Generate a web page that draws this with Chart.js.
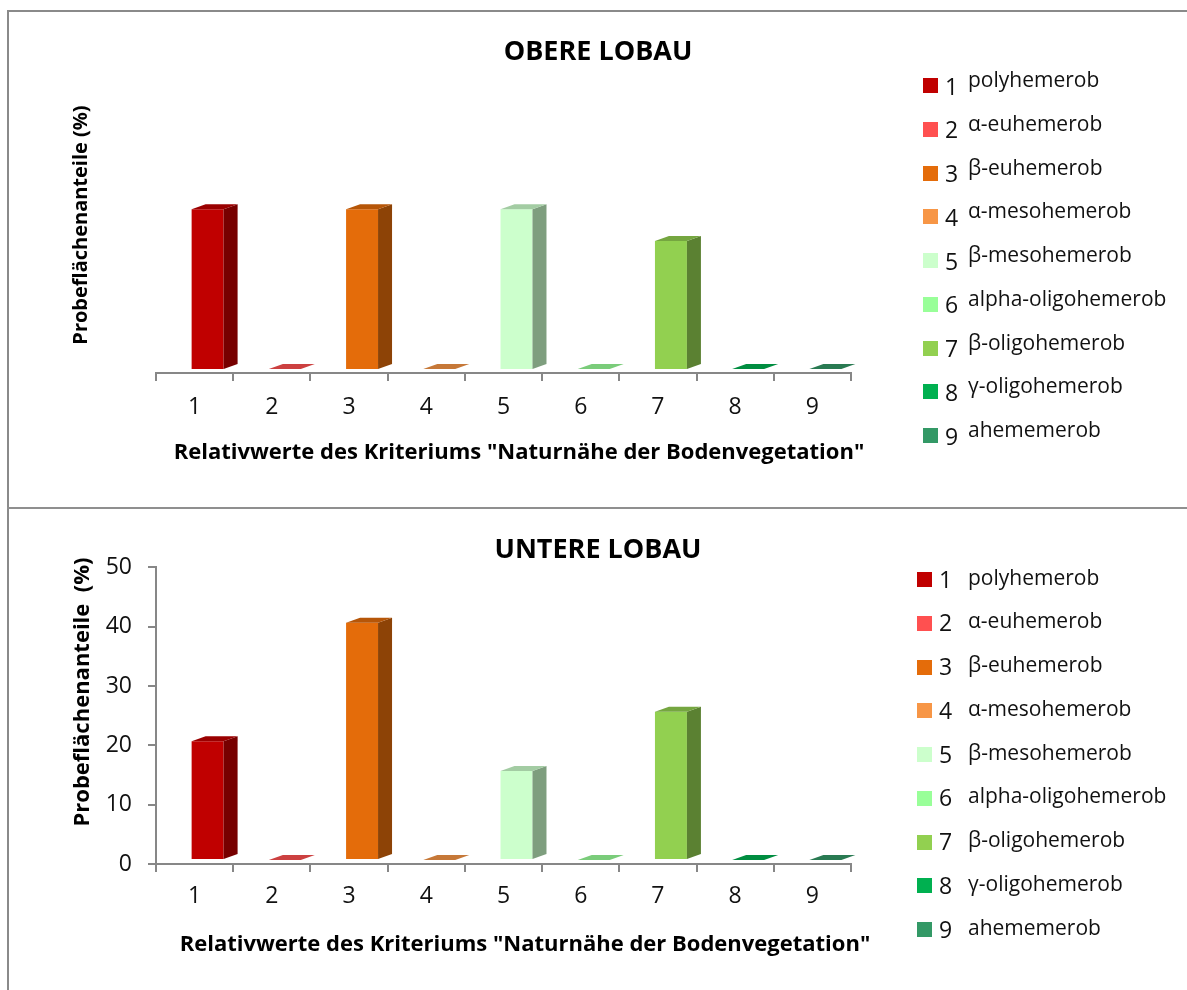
<!DOCTYPE html>
<html lang="de">
<head>
<meta charset="utf-8">
<title>Naturnähe der Bodenvegetation – Obere und Untere Lobau</title>
<script src="https://cdn.jsdelivr.net/npm/chart.js@4.4.1/dist/chart.umd.min.js"></script>
<style>
  html, body { margin: 0; padding: 0; background: #fff; }
  body { width: 1187px; height: 990px; position: relative; overflow: hidden; font-family: 'Open Sans', sans-serif; }
  .frame { position: absolute; left: 7px; top: 10px; width: 1190px; height: 990px;
           border-left: 2px solid #8a8a8a; border-top: 2px solid #8a8a8a; box-sizing: border-box; }
  .divider { position: absolute; left: 7px; top: 507px; width: 1190px; height: 2px; background: #8f8f8f; }
  .panel { position: absolute; left: 9px; width: 1178px; }
  .panel canvas { display: block; }
  .legend { position: absolute; left: 0; top: 0; }
  .legend .sq { position: absolute; width: 15px; height: 15px; }
  .legend .num { position: absolute; font-size: 23px; line-height: 1; color: #111; white-space: nowrap; }
  .legend .lab { position: absolute; font-size: 21px; line-height: 1; color: #111; white-space: nowrap; }
  .axis-title { position: absolute; font-weight: bold; color: #000; line-height: 1; white-space: pre;
                transform: translate(-50%, -50%); }
  .axis-title.vertical { transform: translate(-50%, -50%) rotate(-90deg); }
</style>
</head>
<body>
<div class="frame"></div>
<div class="divider"></div>
<div class="panel" style="top:12px;height:495px;"><canvas id="obere" width="1178" height="495"></canvas></div>
<div class="panel" style="top:510px;height:480px;"><canvas id="untere" width="1178" height="480"></canvas></div>
<div class="legend" id="legendObere"></div>
<div class="legend" id="legendUntere"></div>
<div class="axis-title" id="xTitleObere" style="left:519px;top:450px;font-size:22px;"></div>
<div class="axis-title" id="xTitleUntere" style="left:525px;top:942px;font-size:22px;"></div>
<div class="axis-title vertical" id="yTitleObere" style="left:80px;top:225px;font-size:20px;"></div>
<div class="axis-title vertical" id="yTitleUntere" style="left:80px;top:692px;font-size:22px;"></div>

<script>
// Hemerobie-Stufen (Relativwerte 1–9)
const categories = ['1', '2', '3', '4', '5', '6', '7', '8', '9'];
const classNames = ['polyhemerob', 'α-euhemerob', 'β-euhemerob', 'α-mesohemerob', 'β-mesohemerob',
                    'alpha-oligohemerob', 'β-oligohemerob', 'γ-oligohemerob', 'ahememerob'];
const classColors = ['#C00000', '#FF5050', '#E46C0A', '#F79646', '#CCFFCC',
                     '#99FF99', '#92D050', '#00B050', '#339966'];

// Probeflächenanteile in %
const obereLobau  = [26.3, 0, 26.3, 0, 26.3, 0, 21.1, 0, 0];
const untereLobau = [20, 0, 40, 0, 15, 0, 25, 0, 0];

// Y-Achse
const yMin = 0;
const yMax = 50;
const yStep = 10;

const chartTitles = ['OBERE LOBAU', 'UNTERE LOBAU'];
const xAxisTitle = 'Relativwerte des Kriteriums "Naturnähe der Bodenvegetation"';
const yAxisTitles = ['Probeflächenanteile (%)', 'Probeflächenanteile  (%)'];

// ---------------------------------------------------------------------------
const AXIS_GRAY = '#878787';
Chart.defaults.font.family = "'Open Sans', sans-serif";
Chart.defaults.color = '#111';

function shade(hex, f) {
  const n = parseInt(hex.slice(1), 16);
  const r = Math.round(((n >> 16) & 255) * f);
  const g = Math.round(((n >> 8) & 255) * f);
  const b = Math.round((n & 255) * f);
  return `rgb(${r},${g},${b})`;
}

// Draws the columns as Excel-style 3D blocks: the library draws the front face,
// this plugin adds the side and top faces from each bar element's geometry.
const bar3d = {
  id: 'bar3d',
  beforeDatasetsDraw(chart, args, opts) {
    chart.ctx.save();
    chart.ctx.translate(opts.floorX, -opts.floorY);
  },
  afterDatasetsDraw(chart, args, opts) {
    const ctx = chart.ctx;
    const dx = opts.depthX, dy = opts.depthY;
    const meta = chart.getDatasetMeta(0);
    const colors = chart.data.datasets[0].backgroundColor;
    meta.data.forEach((bar, i) => {
      const p = bar.getProps(['x', 'y', 'base', 'width'], true);
      const l = p.x - p.width / 2, r = p.x + p.width / 2;
      const top = Math.min(p.y, p.base), bottom = Math.max(p.y, p.base);
      // side face
      if (bottom - top > 0.5) {
        ctx.fillStyle = shade(colors[i], 0.62);
        ctx.beginPath();
        ctx.moveTo(r, top);
        ctx.lineTo(r + dx, top - dy);
        ctx.lineTo(r + dx, bottom - dy);
        ctx.lineTo(r, bottom);
        ctx.closePath();
        ctx.fill();
      }
      // top face
      ctx.fillStyle = shade(colors[i], 0.8);
      ctx.beginPath();
      ctx.moveTo(l, top);
      ctx.lineTo(l + dx, top - dy);
      ctx.lineTo(r + dx, top - dy);
      ctx.lineTo(r, top);
      ctx.closePath();
      ctx.fill();
    });
    ctx.restore();
  }
};

function makeChart(canvasId, values, idx, cfg) {
  return new Chart(document.getElementById(canvasId), {
    type: 'bar',
    data: {
      labels: categories,
      datasets: [{
        data: values,
        backgroundColor: classColors,
        borderWidth: 0,
        categoryPercentage: 1,
        barPercentage: 0.414
      }]
    },
    plugins: [bar3d],
    options: {
      responsive: false,
      animation: false,
      events: [],
      layout: { padding: 0 },
      plugins: {
        legend: { display: false },
        tooltip: { enabled: false },
        title: {
          display: true,
          text: chartTitles[idx],
          font: { size: 27, weight: 'bold' },
          color: '#000',
          padding: { top: 24, bottom: 1 }
        },
        bar3d: { floorX: 13, floorY: 4, depthX: 14, depthY: 5 }
      },
      scales: {
        x: {
          grid: {
            display: true, offset: true, drawOnChartArea: false, drawTicks: true,
            tickLength: 8, color: AXIS_GRAY, lineWidth: 2
          },
          border: { display: true, color: AXIS_GRAY, width: 2 },
          ticks: { font: { size: 23 }, color: '#111', padding: cfg.xTickPad, maxRotation: 0 },
          afterFit(s) { s.height = cfg.xHeight; }
        },
        y: {
          min: yMin, max: yMax,
          ticks: { display: cfg.showY, stepSize: yStep, font: { size: 23 }, color: '#111', padding: 16 },
          grid: {
            display: cfg.showY, drawOnChartArea: false, drawTicks: true,
            tickLength: 8, color: AXIS_GRAY, lineWidth: 2
          },
          border: { display: cfg.showY, color: AXIS_GRAY, width: 2 },
          afterFit(s) { s.width = 147; }
        },
        // empty right-hand strip that keeps the plot area clear of the legend column
        legendSpace: {
          type: 'linear', position: 'right', display: true,
          ticks: { display: false }, grid: { display: false }, border: { display: false },
          afterFit(s) { s.width = 336; }
        }
      }
    }
  });
}

makeChart('obere', obereLobau, 0, { xHeight: 134, xTickPad: 13, showY: false });
makeChart('untere', untereLobau, 1, { xHeight: 126, xTickPad: 11, showY: true });

// Axis titles
document.getElementById('xTitleObere').textContent = xAxisTitle;
document.getElementById('xTitleUntere').textContent = xAxisTitle;
document.getElementById('yTitleObere').textContent = yAxisTitles[0];
document.getElementById('yTitleUntere').textContent = yAxisTitles[1];

// Legend: colour square, class number and class name for each Hemerobie-Stufe
function buildLegend(id, sqX, sqY, numX, labX, numDy, labDy) {
  const host = document.getElementById(id);
  const rowGap = 43.75;
  categories.forEach((c, i) => {
    const top = sqY + i * rowGap;
    const sq = document.createElement('div');
    sq.className = 'sq';
    sq.style.left = sqX + 'px';
    sq.style.top = top + 'px';
    sq.style.background = classColors[i];
    const num = document.createElement('div');
    num.className = 'num';
    num.textContent = c;
    num.style.left = numX + 'px';
    num.style.top = (top + numDy) + 'px';
    const lab = document.createElement('div');
    lab.className = 'lab';
    lab.textContent = classNames[i];
    lab.style.left = labX + 'px';
    lab.style.top = (top + labDy) + 'px';
    host.append(sq, num, lab);
  });
}
buildLegend('legendObere', 923, 78, 945, 968, -3.5, -9);
buildLegend('legendUntere', 917, 572, 939, 968, -4.5, -5.5);
</script>
</body>
</html>
